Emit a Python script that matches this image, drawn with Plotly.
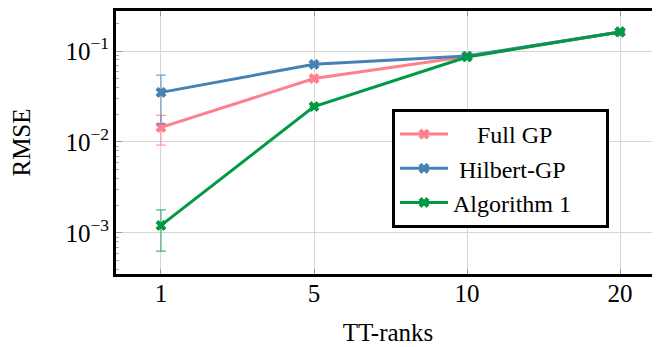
import plotly.graph_objects as go

ranks = ["1", "5", "10", "20"]
full_gp = [0.01445, 0.0498, 0.087, 0.162]
full_gp_err = [0.0052, 0.0, 0.0, 0.0]
hilbert_gp = [0.0351, 0.0714, 0.088, 0.162]
hilbert_gp_err = [0.0193, 0.0, 0.0, 0.0]
algo1 = [0.00121, 0.02455, 0.086, 0.162]
algo1_err = [0.00058, 0.0, 0.0, 0.0]

NB = "\u00a0"
names = [NB * 4 + "Full GP", NB + "Hilbert-GP", "Algorithm 1" + NB * 5]
colors = ["#ff7f8a", "#4682b4", "#009944"]
err_colors = ["rgba(255,127,138,0.75)", "rgba(70,130,180,0.75)", "rgba(0,153,68,0.7)"]

FONT = "Liberation Serif, DejaVu Serif, Times New Roman, serif"

fig = go.Figure()
for name, ys, errs, c, ec in zip(names, [full_gp, hilbert_gp, algo1],
                                 [full_gp_err, hilbert_gp_err, algo1_err], colors, err_colors):
    fig.add_trace(go.Scatter(
        x=ranks, y=ys, name=name, mode="lines+markers",
        line=dict(color=c, width=3),
        marker=dict(symbol="x", size=9, color=c, line=dict(width=0.8, color=c)),
        error_y=dict(type="data", array=errs, visible=True, color=ec, thickness=1.2, width=5),
    ))

# invisible trace for mirrored right ticks
fig.add_trace(go.Scatter(x=ranks, y=algo1, yaxis="y2", showlegend=False,
                         mode="markers", marker=dict(opacity=0), hoverinfo="skip"))

minor_vals = [m * 10.0 ** e for e in [-4, -3, -2, -1] for m in range(2, 10)]
yrange = [-3.451, -0.5604]

# page body has an 8px margin; figure is laid out to compensate
fig.update_layout(
    width=652, height=339,
    margin=dict(l=108, r=0, t=3, b=73, autoexpand=False),
    paper_bgcolor="white", plot_bgcolor="white",
    font=dict(family=FONT, size=25, color="black"),
    showlegend=True,
    legend=dict(
        x=(392 - 116) / 544, y=(274 - 109) / 263, xanchor="left", yanchor="top",
        bgcolor="white", bordercolor="black", borderwidth=3,
        font=dict(family=FONT, size=24, color="black"),
        tracegroupgap=0, itemwidth=48,
    ),
    xaxis=dict(
        type="category", range=[-0.294, 3.261], automargin=False,
        showline=True, linecolor="black", linewidth=3, mirror="ticks",
        ticks="inside", ticklen=5, tickcolor="#999999", tickwidth=1,
        showgrid=True, gridcolor="#d6d6d6", gridwidth=1,
        tickfont=dict(family=FONT, size=25), ticklabelstandoff=-5,
        title=dict(text="TT-ranks", font=dict(family=FONT, size=25), standoff=18),
        zeroline=False,
    ),
    yaxis=dict(
        type="log", range=yrange, automargin=False,
        showline=True, linecolor="black", linewidth=3, mirror=False,
        tickvals=[1e-3, 1e-2, 1e-1],
        ticktext=["10<sup>−3</sup>", "10<sup>−2</sup>", "10<sup>−1</sup>"],
        ticks="inside", ticklen=6, tickcolor="#999999", tickwidth=1,
        minor=dict(tickmode="array", tickvals=minor_vals, ticks="inside",
                   ticklen=3, tickcolor="#aaaaaa", showgrid=False),
        showgrid=True, gridcolor="#d6d6d6", gridwidth=1,
        tickfont=dict(family=FONT, size=25), ticklabelstandoff=-1,
        title=dict(text="RMSE", font=dict(family=FONT, size=25), standoff=37),
        zeroline=False,
    ),
    yaxis2=dict(
        type="log", range=yrange, overlaying="y", side="right", automargin=False,
        showline=False, showgrid=False, showticklabels=False,
        tickvals=[1e-3, 1e-2, 1e-1],
        ticks="inside", ticklen=6, tickcolor="#999999", tickwidth=1,
        minor=dict(tickmode="array", tickvals=minor_vals, ticks="inside",
                   ticklen=3, tickcolor="#aaaaaa", showgrid=False),
        zeroline=False,
    ),
)

fig.write_html("out.html")
